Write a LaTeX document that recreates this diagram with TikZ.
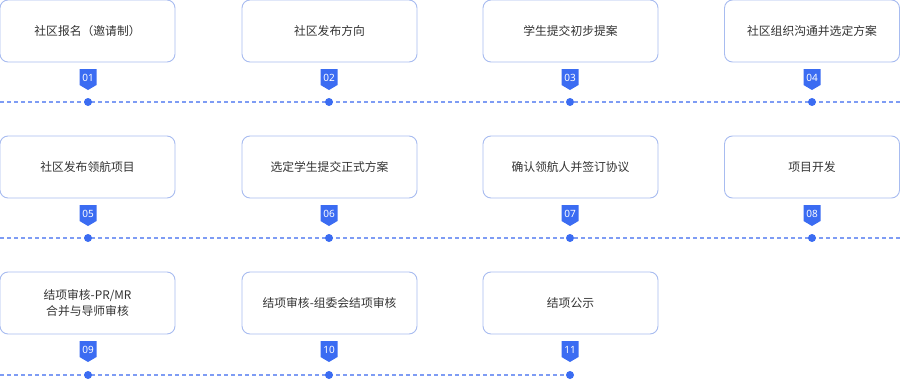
\documentclass[tikz,border=0pt]{standalone}
\usepackage{fontspec}
\setmainfont{Noto Sans CJK SC}
\newfontfamily\badgefont{Noto Sans}
\definecolor{boxline}{HTML}{A8BCF0}
\definecolor{txt}{HTML}{333333}
\definecolor{badge}{HTML}{3B6CF2}
\definecolor{dash}{HTML}{7E9CF4}
\begin{document}
\begin{tikzpicture}[x=1pt,y=-1pt,
  stepbox/.style={draw=boxline,line width=0.9pt,rounded corners=8pt,minimum width=175pt,minimum height=62pt,
    text=txt,font=\fontsize{11.8}{16}\selectfont,align=center,inner sep=0pt,fill=white},
  timeline/.style={draw=dash,line width=1.3pt,dash pattern=on 4pt off 3pt},
  dotmark/.style={circle,fill=badge,minimum size=8pt,inner sep=0pt},
  badgetxt/.style={text=white,font=\badgefont\bfseries\fontsize{10}{10}\selectfont,inner sep=0pt}]
\useasboundingbox (0,0) rectangle (900,388);
\newcommand{\mybadge}[3]{%
  \fill[badge] (#1-8.5,#2-14) -- (#1+8.5,#2-14) -- (#1+8.5,#2+2) -- (#1,#2+7) -- (#1-8.5,#2+2) -- cycle;
  \node[badgetxt] (#3) at (#1,#2-5.5) {#3};}
\draw[timeline] (0,102) -- (900,102);
\draw[timeline] (0,238) -- (900,238);
\draw[timeline] (0,375) -- (570,375);
\node[stepbox] (b1) at (87.5,31) {社区报名（邀请制）};
\node[stepbox] (b2) at (329.5,31) {社区发布方向};
\node[stepbox] (b3) at (570.5,31) {学生提交初步提案};
\node[stepbox] (b4) at (812,31) {社区组织沟通并选定方案};
\node[stepbox] (b5) at (87.5,167) {社区发布领航项目};
\node[stepbox] (b6) at (329.5,167) {选定学生提交正式方案};
\node[stepbox] (b7) at (570.5,167) {确认领航人并签订协议};
\node[stepbox] (b8) at (812,167) {项目开发};
\node[stepbox] (b9) at (87.5,303) {结项审核-PR/MR\\合并与导师审核};
\node[stepbox] (b10) at (329.5,303) {结项审核-组委会结项审核};
\node[stepbox] (b11) at (570.5,303) {结项公示};
\mybadge{88}{83}{01}
\mybadge{329}{83}{02}
\mybadge{570}{83}{03}
\mybadge{812}{83}{04}
\mybadge{88}{219}{05}
\mybadge{329}{219}{06}
\mybadge{570}{219}{07}
\mybadge{812}{219}{08}
\mybadge{88}{355}{09}
\mybadge{329}{355}{10}
\mybadge{570}{355}{11}
\node[dotmark] (d1) at (88,102) {};
\node[dotmark] (d2) at (329,102) {};
\node[dotmark] (d3) at (570,102) {};
\node[dotmark] (d4) at (812,102) {};
\node[dotmark] (d5) at (88,238) {};
\node[dotmark] (d6) at (329,238) {};
\node[dotmark] (d7) at (570,238) {};
\node[dotmark] (d8) at (812,238) {};
\node[dotmark] (d9) at (88,375) {};
\node[dotmark] (d10) at (329,375) {};
\node[dotmark] (d11) at (570,375) {};
\end{tikzpicture}
\end{document}
